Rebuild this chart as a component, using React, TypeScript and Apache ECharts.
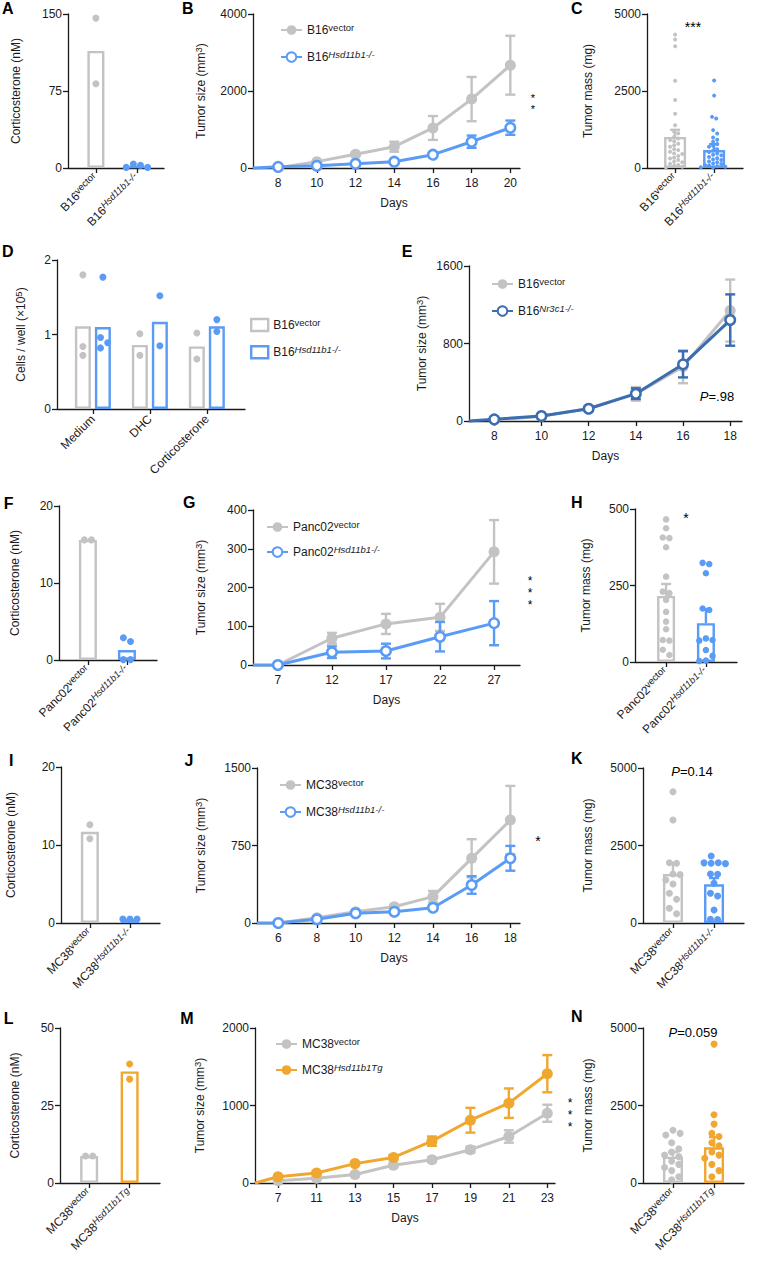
import React, { useEffect, useRef } from 'react';
import * as echarts from 'echarts';

const W = 758;
const H = 1262;
const FONT = '"Liberation Sans", Arial, Helvetica, sans-serif';
const INK = '#1a1a1a';
const GRAY = '#c3c3c3';
const BLUE = '#5a9bf6';
const DBLUE = '#3b6db1';
const ORANGE = '#f0a72f';

// ---------------- DATA ----------------
// A: corticosterone, B16
const aVectorDots = [146, 82];
const aKoDots = [0.6, 3.9, 0.6, 2.6];
const aMeans = [114, 1.9];

// B: B16 tumor growth
const bDays = [8, 10, 12, 14, 16, 18, 20];
const bVector = [10, 165, 355, 553, 1040, 1790, 2670];
const bVectorSem = [5, 25, 40, 130, 310, 575, 765];
const bKo = [30, 60, 112, 164, 346, 683, 1047];
const bKoSem = [5, 10, 20, 30, 45, 160, 185];

// C: B16 tumor mass
const cVectorDots = [4330, 4170, 3950, 2830, 2210, 1760, 1390, 1180, 1130, 1010, 960, 905, 870, 790, 740, 690, 610, 580, 530, 470, 455, 390, 330, 310, 260, 200, 185, 140, 95, 70, 40, 20];
const cKoDots = [2840, 2350, 1660, 1610, 1230, 1120, 990, 920, 850, 780, 720, 690, 610, 570, 520, 470, 430, 410, 360, 320, 280, 260, 210, 190, 150, 130, 100, 80, 60, 40, 25, 15];
const cMeans = [1010, 585];
const cSems = [230, 190];

// D: cells per well
const dCats = ['Medium', 'DHC', 'Corticosterone'];
const dVectorMeans = [1.11, 0.86, 0.84];
const dKoMeans = [1.1, 1.17, 1.11];
const dVectorDots = [[1.8, 0.84, 0.72], [1.01, 0.72], [1.02, 0.67]];
const dKoDots = [[1.77, 0.96, 0.89, 0.82], [1.52, 0.85], [1.2, 1.04]];

// E: B16 Nr3c1 tumor growth
const eDays = [8, 10, 12, 14, 16, 18];
const eVector = [10, 50, 130, 280, 560, 1140];
const eVectorSem = [3, 10, 20, 70, 170, 320];
const eKo = [17, 52, 127, 282, 585, 1042];
const eKoSem = [3, 10, 20, 55, 135, 265];

// F: corticosterone, Panc02
const fVectorDots = [15.6, 15.6];
const fKoDots = [2.4, 2.9, 0.05, 0.05];
const fMeans = [15.6, 1.3];

// G: Panc02 tumor growth
const gDays = [7, 12, 17, 22, 27];
const gVector = [0, 69, 106, 123, 292];
const gVectorSem = [0, 14, 26, 35, 82];
const gKo = [0, 33, 36, 73, 108];
const gKoSem = [0, 15, 19, 38, 57];

// H: Panc02 tumor mass
const hVectorDots = [466, 437, 407, 405, 375, 279, 230, 225, 203, 164, 132, 107, 72, 70, 40, 23];
const hKoDots = [324, 320, 290, 175, 170, 77, 72, 70, 39, 20, 3, 5];
const hMeans = [216, 127];
const hSems = [39, 46];

// I: corticosterone, MC38
const iVectorDots = [12.6, 10.8];
const iKoDots = [0.5, 0.5, 0.5];
const iMeans = [11.7, 0.5];

// J: MC38 tumor growth
const jDays = [6, 8, 10, 12, 14, 16, 18];
const jVector = [0, 51, 109, 158, 255, 626, 997];
const jVectorSem = [0, 10, 15, 20, 55, 185, 330];
const jKo = [0, 36, 94, 109, 148, 368, 626];
const jKoSem = [0, 8, 12, 15, 20, 85, 120];

// K: MC38 tumor mass
const kVectorDots = [4235, 3322, 1946, 1925, 1580, 1560, 1387, 1258, 957, 764, 473, 300];
const kKoDots = [2161, 1946, 1940, 1925, 1915, 1580, 1570, 1280, 957, 871, 419, 120, 115];
const kMeans = [1580, 1250];
const kSems = [355, 200];

// L: corticosterone, MC38 transgenic
const lVectorDots = [8.7, 8.7];
const lTgDots = [38.4, 33.5];
const lMeans = [8.7, 36];

// M: MC38 transgenic tumor growth
const mDays = [7, 11, 13, 15, 17, 19, 21, 23];
const mVector = [30, 60, 110, 230, 300, 430, 600, 900];
const mVectorSem = [5, 10, 15, 20, 30, 40, 80, 110];
const mTg = [80, 130, 250, 330, 540, 810, 1030, 1410];
const mTgSem = [10, 15, 20, 30, 60, 160, 190, 240];

// N: MC38 transgenic tumor mass
const nVectorDots = [1700, 1600, 1550, 1300, 1100, 1000, 900, 850, 700, 600, 500, 400, 200, 100];
const nTgDots = [4480, 2200, 1900, 1600, 1500, 1300, 1200, 1000, 900, 800, 600, 400, 200];
const nMeans = [850, 1150];
const nSems = [150, 330];

// ---------------- STYLE HELPERS ----------------
const RICH: any = {
  n: { fontFamily: FONT, fontSize: 12, color: INK, lineHeight: 16 },
  s: { fontFamily: FONT, fontSize: 9.5, color: INK, lineHeight: 9, verticalAlign: 'top' },
  si: { fontFamily: FONT, fontSize: 9.5, color: INK, lineHeight: 9, verticalAlign: 'top', fontStyle: 'italic' },
  i: { fontFamily: FONT, fontSize: 13, color: INK, fontStyle: 'italic', lineHeight: 16 },
  p: { fontFamily: FONT, fontSize: 13, color: INK, lineHeight: 16 },
};
const lab = (base: string, sup: string, italic: boolean) => `{n|${base}}{${italic ? 'si' : 's'}|${sup}}`;

const axisLineStyle = { show: true, onZero: false, lineStyle: { color: INK, width: 1.3 } };
const tickStyle = { show: true, length: 5, lineStyle: { color: INK, width: 1.3 } };

type Opt = { grid: any[]; xAxis: any[]; yAxis: any[]; series: any[]; legend: any[]; graphic: any[] };

function yAxisCfg(gi: number, max: number, interval: number, name: string, nameGap: number) {
  return {
    type: 'value', gridIndex: gi, min: 0, max, interval,
    axisLine: axisLineStyle, axisTick: tickStyle,
    axisLabel: { fontFamily: FONT, fontSize: 12, color: INK, margin: 6, formatter: (v: number) => String(v) },
    splitLine: { show: false },
    name, nameLocation: 'middle', nameGap, nameRotate: 90,
    nameTextStyle: { fontFamily: FONT, fontSize: 12, color: INK, rich: RICH },
  };
}

// beeswarm-like placement, returns pixel offsets
function swarm(vals: number[], pxY: number, d: number): number[] {
  const order = vals.map((_, i) => i).sort((a, b) => vals[b] - vals[a]);
  const placed: { x: number; y: number; i: number }[] = [];
  const off = new Array(vals.length).fill(0);
  for (const i of order) {
    const y = vals[i] * pxY;
    let x = 0;
    for (let step = 0; step < 80; step++) {
      const k = Math.ceil(step / 2);
      const cand = step === 0 ? 0 : (step % 2 === 1 ? k : -k) * d;
      if (placed.every((p) => Math.hypot(p.x - cand, p.y - y) >= d * 0.97)) { x = cand; break; }
    }
    placed.push({ x, y, i });
    off[i] = x;
  }
  const n = placed.length;
  const seen = new Array(n).fill(false);
  for (let s = 0; s < n; s++) {
    if (seen[s]) continue;
    const comp = [s]; seen[s] = true;
    for (let q = 0; q < comp.length; q++) {
      for (let t = 0; t < n; t++) {
        if (!seen[t] && Math.abs(placed[t].y - placed[comp[q]].y) < d) { seen[t] = true; comp.push(t); }
      }
    }
    const mean = comp.reduce((a, c) => a + placed[c].x, 0) / comp.length;
    comp.forEach((c) => { off[placed[c].i] = placed[c].x - mean; });
  }
  return off;
}

function errorBarSeries(gi: number, pts: number[][], color: string, cap: number, upOnly: boolean, z: number) {
  return {
    type: 'custom', xAxisIndex: gi, yAxisIndex: gi, z, silent: true, clip: false,
    data: pts,
    renderItem: (_p: any, api: any) => {
      const x = api.value(0);
      const a = api.coord([x, api.value(1)]);
      const b = api.coord([x, api.value(2)]);
      const st = { stroke: color, lineWidth: 2.4 };
      const children: any[] = [
        { type: 'line', shape: { x1: a[0], y1: a[1], x2: b[0], y2: b[1] }, style: st },
        { type: 'line', shape: { x1: b[0] - cap, y1: b[1], x2: b[0] + cap, y2: b[1] }, style: st },
      ];
      if (!upOnly) children.push({ type: 'line', shape: { x1: a[0] - cap, y1: a[1], x2: a[0] + cap, y2: a[1] }, style: st });
      return { type: 'group', children };
    },
  };
}

type BarP = {
  l: number; t: number; w: number; h: number; xMin: number; xMax: number;
  yMax: number; yInt: number; yName: string; nameGap: number;
  labels: string[]; means: number[]; sems: (number | null)[]; dots: number[][]; colors: string[];
  barWidth: number; dotSize: number;
};

function addBarPanel(o: Opt, p: BarP) {
  const gi = o.grid.length;
  o.grid.push({ left: p.l, top: p.t, width: p.w, height: p.h });
  const idx = p.labels.map((_, i) => i);
  o.xAxis.push({
    type: 'value', gridIndex: gi, min: p.xMin, max: p.xMax,
    axisLine: axisLineStyle,
    axisTick: { ...tickStyle, customValues: idx },
    axisLabel: {
      customValues: idx, formatter: (v: number) => p.labels[Math.round(v)], rotate: 45, margin: 8,
      rich: RICH, fontFamily: FONT, fontSize: 12, color: INK,
    },
    splitLine: { show: false },
  });
  o.yAxis.push(yAxisCfg(gi, p.yMax, p.yInt, p.yName, p.nameGap));
  o.series.push({
    type: 'bar', xAxisIndex: gi, yAxisIndex: gi, barWidth: p.barWidth, silent: true, z: 2,
    data: p.means.map((m, i) => ({ value: [i, m], itemStyle: { borderColor: p.colors[i] } })),
    itemStyle: { color: 'rgba(0,0,0,0)', borderWidth: 2.4 },
  });
  const pxY = p.h / p.yMax;
  const pxX = p.w / (p.xMax - p.xMin);
  p.dots.forEach((vals, i) => {
    const off = swarm(vals, pxY, p.dotSize * 1.02);
    o.series.push({
      type: 'scatter', xAxisIndex: gi, yAxisIndex: gi, symbolSize: p.dotSize, silent: true, z: 3,
      data: vals.map((v, k) => [i + off[k] / pxX, v]),
      itemStyle: { color: p.colors[i], opacity: 1 },
    });
  });
  p.sems.forEach((s, i) => {
    if (s == null) return;
    o.series.push(errorBarSeries(gi, [[i, p.means[i], p.means[i] + s]], p.colors[i], 5, true, 4));
  });
}

type LineS = { name: string; label: string; x: number[]; mean: number[]; sem: number[]; color: string; open: boolean; lead: boolean };
type LineP = {
  l: number; t: number; w: number; h: number; xMin: number; xMax: number;
  ticks: number[]; tickLabel: (v: number) => string;
  yMax: number; yInt: number; yName: string; nameGap: number; xNamePad: number;
  series: LineS[]; legend: { left: number; top: number; gap: number; w: number };
};

function addLinePanel(o: Opt, p: LineP) {
  const gi = o.grid.length;
  o.grid.push({ left: p.l, top: p.t, width: p.w, height: p.h });
  o.xAxis.push({
    type: 'value', gridIndex: gi, min: p.xMin, max: p.xMax,
    axisLine: axisLineStyle,
    axisTick: { ...tickStyle, customValues: p.ticks },
    axisLabel: { customValues: p.ticks, formatter: p.tickLabel, margin: 9, fontFamily: FONT, fontSize: 12, color: INK },
    splitLine: { show: false },
    name: 'Days', nameLocation: 'middle', nameGap: 29,
    nameTextStyle: { fontFamily: FONT, fontSize: 12, color: INK, padding: [0, 0, 0, p.xNamePad] },
  });
  o.yAxis.push(yAxisCfg(gi, p.yMax, p.yInt, p.yName, p.nameGap));
  let z = 2;
  p.series.forEach((s) => {
    const pts = s.x.map((d, i) => [d, s.mean[i] - s.sem[i], s.mean[i] + s.sem[i]]).filter((_, i) => s.sem[i] > 0);
    o.series.push(errorBarSeries(gi, pts, s.color, 5, false, z));
    const data: any[] = s.x.map((d, i) => [d, s.mean[i]]);
    if (s.lead) data.unshift({ value: [p.xMin, 0], symbol: 'none' });
    o.series.push({
      type: 'line', name: s.name, xAxisIndex: gi, yAxisIndex: gi, z: z + 1, silent: true, clip: false,
      data, symbol: 'circle', symbolSize: s.open ? 9.5 : 11, showSymbol: true,
      lineStyle: { color: s.color, width: 3 },
      itemStyle: { color: s.open ? '#ffffff' : s.color, borderColor: s.color, borderWidth: s.open ? 2.5 : 0 },
    });
    z += 2;
  });
  const labels: Record<string, string> = {};
  p.series.forEach((s) => { labels[s.name] = s.label; });
  o.legend.push({
    show: true, orient: 'vertical', left: p.legend.left, top: p.legend.top, itemGap: p.legend.gap,
    itemWidth: p.legend.w, itemHeight: 12, selectedMode: false, padding: 0,
    data: p.series.map((s) => s.name),
    formatter: (n: string) => labels[n],
    textStyle: { fontFamily: FONT, fontSize: 12, color: INK, rich: RICH },
  });
}

function txt(text: string, x: number, y: number, size: number, bold: boolean, align: string, valign = 'top', rich?: any, lineHeight?: number) {
  return {
    type: 'text', x, y, silent: true,
    style: {
      text, fontFamily: FONT, fontSize: size, fontWeight: bold ? 'bold' : 'normal', fill: '#000',
      align, textAlign: align, verticalAlign: valign, textVerticalAlign: valign, rich, lineHeight,
    },
  };
}

function buildOption() {
  const o: Opt = { grid: [], xAxis: [], yAxis: [], series: [], legend: [], graphic: [] };
  const yTumor = '{n|Tumor size (mm}{s|3}{n|)}';
  const yCort = '{n|Corticosterone (nM)}';
  const yMass = '{n|Tumor mass (mg)}';
  const num = (v: number) => String(Math.round(v));

  // A
  addBarPanel(o, {
    l: 68, t: 14, w: 96, h: 154, xMin: -0.68, xMax: 1.66, yMax: 150, yInt: 75, yName: yCort, nameGap: 44,
    labels: [lab('B16', 'vector', false), lab('B16', 'Hsd11b1-/-', true)],
    means: aMeans, sems: [null, null], dots: [aVectorDots, aKoDots], colors: [GRAY, BLUE], barWidth: 17, dotSize: 7,
  });
  // B
  addLinePanel(o, {
    l: 253, t: 14, w: 267, h: 154, xMin: 6.7, xMax: 20.5, ticks: bDays, tickLabel: num,
    yMax: 4000, yInt: 2000, yName: yTumor, nameGap: 44, xNamePad: 15,
    series: [
      { name: 'B-vec', label: lab('B16', 'vector', false), x: bDays, mean: bVector, sem: bVectorSem, color: GRAY, open: false, lead: false },
      { name: 'B-ko', label: lab('B16', 'Hsd11b1-/-', true), x: bDays, mean: bKo, sem: bKoSem, color: BLUE, open: true, lead: true },
    ],
    legend: { left: 280, top: 22, gap: 13, w: 21 },
  });
  // C
  addBarPanel(o, {
    l: 647, t: 14, w: 96, h: 154, xMin: -0.72, xMax: 1.74, yMax: 5000, yInt: 2500, yName: yMass, nameGap: 51,
    labels: [lab('B16', 'vector', false), lab('B16', 'Hsd11b1-/-', true)],
    means: cMeans, sems: cSems, dots: [cVectorDots, cKoDots], colors: [GRAY, BLUE], barWidth: 22, dotSize: 4,
  });

  // D (grouped)
  {
    const gi = o.grid.length;
    const l = 57, t = 260, w = 188, h = 149, xMin = -0.63, xMax = 2.67, yMax = 2;
    o.grid.push({ left: l, top: t, width: w, height: h });
    const idx = dCats.map((_, i) => i);
    o.xAxis.push({
      type: 'value', gridIndex: gi, min: xMin, max: xMax, axisLine: axisLineStyle,
      axisTick: { ...tickStyle, customValues: idx },
      axisLabel: { customValues: idx, formatter: (v: number) => dCats[Math.round(v)], rotate: 45, margin: 8, fontFamily: FONT, fontSize: 12, color: INK },
      splitLine: { show: false },
    });
    o.yAxis.push(yAxisCfg(gi, yMax, 1, '{n|Cells / well (×10}{s|5}{n|)}', 28));
    const bw = 16;
    o.series.push({
      type: 'bar', name: 'D-vec', xAxisIndex: gi, yAxisIndex: gi, barWidth: bw, barGap: '25%', silent: true, z: 2,
      data: dVectorMeans.map((m, i) => [i, m]),
      itemStyle: { color: 'rgba(0,0,0,0)', borderColor: GRAY, borderWidth: 2.4 },
    });
    o.series.push({
      type: 'bar', name: 'D-ko', xAxisIndex: gi, yAxisIndex: gi, barWidth: bw, barGap: '25%', silent: true, z: 2,
      data: dKoMeans.map((m, i) => [i, m]),
      itemStyle: { color: 'rgba(0,0,0,0)', borderColor: BLUE, borderWidth: 2.4 },
    });
    const pxX = w / (xMax - xMin);
    const pxY = h / yMax;
    const shift = (bw + bw * 0.25) / 2;
    [[dVectorDots, GRAY, -shift], [dKoDots, BLUE, shift]].forEach(([groups, color, sh]: any) => {
      const data: number[][] = [];
      (groups as number[][]).forEach((vals, i) => {
        const off = swarm(vals, pxY, 7.2);
        vals.forEach((v, k) => data.push([i + (sh + off[k]) / pxX, v]));
      });
      o.series.push({ type: 'scatter', xAxisIndex: gi, yAxisIndex: gi, symbolSize: 7, silent: true, z: 3, data, itemStyle: { color, opacity: 1 } });
    });
    o.legend.push({
      show: true, orient: 'vertical', left: 250, top: 317, itemGap: 12, itemWidth: 17, itemHeight: 12,
      selectedMode: false, padding: 0, icon: 'rect', data: ['D-vec', 'D-ko'],
      itemStyle: { color: 'rgba(0,0,0,0)', borderWidth: 2.4 },
      formatter: (n: string) => (n === 'D-vec' ? lab('B16', 'vector', false) : lab('B16', 'Hsd11b1-/-', true)),
      textStyle: { fontFamily: FONT, fontSize: 12, color: INK, rich: RICH },
    });
  }

  // E
  addLinePanel(o, {
    l: 469, t: 266, w: 273, h: 155, xMin: 6.93, xMax: 18.5, ticks: eDays, tickLabel: num,
    yMax: 1600, yInt: 800, yName: yTumor, nameGap: 39, xNamePad: 0,
    series: [
      { name: 'E-vec', label: lab('B16', 'vector', false), x: eDays, mean: eVector, sem: eVectorSem, color: GRAY, open: false, lead: false },
      { name: 'E-ko', label: lab('B16', 'Nr3c1-/-', true), x: eDays, mean: eKo, sem: eKoSem, color: DBLUE, open: true, lead: true },
    ],
    legend: { left: 491, top: 276, gap: 13, w: 21 },
  });

  // F
  addBarPanel(o, {
    l: 59, t: 506, w: 98, h: 154, xMin: -0.74, xMax: 1.77, yMax: 20, yInt: 10, yName: yCort, nameGap: 36,
    labels: [lab('Panc02', 'vector', false), lab('Panc02', 'Hsd11b1-/-', true)],
    means: fMeans, sems: [null, null], dots: [fVectorDots, fKoDots], colors: [GRAY, BLUE], barWidth: 18, dotSize: 7,
  });
  // G
  addLinePanel(o, {
    l: 253, t: 510, w: 267, h: 155, xMin: 4.7, xMax: 29.4, ticks: gDays, tickLabel: num,
    yMax: 400, yInt: 100, yName: yTumor, nameGap: 44, xNamePad: 0,
    series: [
      { name: 'G-vec', label: lab('Panc02', 'vector', false), x: gDays, mean: gVector, sem: gVectorSem, color: GRAY, open: false, lead: false },
      { name: 'G-ko', label: lab('Panc02', 'Hsd11b1-/-', true), x: gDays, mean: gKo, sem: gKoSem, color: BLUE, open: true, lead: true },
    ],
    legend: { left: 266, top: 519, gap: 11, w: 21 },
  });
  // H
  addBarPanel(o, {
    l: 635, t: 509, w: 102, h: 153, xMin: -0.78, xMax: 1.78, yMax: 500, yInt: 250, yName: yMass, nameGap: 41,
    labels: [lab('Panc02', 'vector', false), lab('Panc02', 'Hsd11b1-/-', true)],
    means: hMeans, sems: hSems, dots: [hVectorDots, hKoDots], colors: [GRAY, BLUE], barWidth: 18, dotSize: 6.5,
  });

  // I
  addBarPanel(o, {
    l: 61, t: 767, w: 99, h: 156, xMin: -0.72, xMax: 1.75, yMax: 20, yInt: 10, yName: yCort, nameGap: 42,
    labels: [lab('MC38', 'vector', false), lab('MC38', 'Hsd11b1-/-', true)],
    means: iMeans, sems: [null, null], dots: [iVectorDots, iKoDots], colors: [GRAY, BLUE], barWidth: 18, dotSize: 7,
  });
  // J
  addLinePanel(o, {
    l: 257, t: 768, w: 263, h: 155, xMin: 4.9, xMax: 18.5, ticks: jDays, tickLabel: num,
    yMax: 1500, yInt: 750, yName: yTumor, nameGap: 48, xNamePad: 11,
    series: [
      { name: 'J-vec', label: lab('MC38', 'vector', false), x: jDays, mean: jVector, sem: jVectorSem, color: GRAY, open: false, lead: false },
      { name: 'J-ko', label: lab('MC38', 'Hsd11b1-/-', true), x: jDays, mean: jKo, sem: jKoSem, color: BLUE, open: true, lead: true },
    ],
    legend: { left: 279, top: 777, gap: 13, w: 21 },
  });
  // K
  addBarPanel(o, {
    l: 643, t: 768, w: 101, h: 155, xMin: -0.73, xMax: 1.73, yMax: 5000, yInt: 2500, yName: yMass, nameGap: 47,
    labels: [lab('MC38', 'vector', false), lab('MC38', 'Hsd11b1-/-', true)],
    means: kMeans, sems: kSems, dots: [kVectorDots, kKoDots], colors: [GRAY, BLUE], barWidth: 20, dotSize: 7,
  });

  // L
  addBarPanel(o, {
    l: 60, t: 1028, w: 100, h: 155, xMin: -0.72, xMax: 1.75, yMax: 50, yInt: 25, yName: yCort, nameGap: 37,
    labels: [lab('MC38', 'vector', false), lab('MC38', 'Hsd11b1Tg', true)],
    means: lMeans, sems: [null, null], dots: [lVectorDots, lTgDots], colors: [GRAY, ORANGE], barWidth: 18, dotSize: 7,
  });
  // M
  const mIdx = mDays.map((_, i) => i);
  addLinePanel(o, {
    l: 255, t: 1028, w: 300, h: 155, xMin: -0.6, xMax: 7.2, ticks: mIdx, tickLabel: (v: number) => String(mDays[Math.round(v)]),
    yMax: 2000, yInt: 1000, yName: yTumor, nameGap: 47, xNamePad: 0,
    series: [
      { name: 'M-vec', label: lab('MC38', 'vector', false), x: mIdx, mean: mVector, sem: mVectorSem, color: GRAY, open: false, lead: false },
      { name: 'M-tg', label: lab('MC38', 'Hsd11b1Tg', true), x: mIdx, mean: mTg, sem: mTgSem, color: ORANGE, open: false, lead: true },
    ],
    legend: { left: 275, top: 1036, gap: 12, w: 21 },
  });
  // N
  addBarPanel(o, {
    l: 643, t: 1028, w: 101, h: 155, xMin: -0.73, xMax: 1.73, yMax: 5000, yInt: 2500, yName: yMass, nameGap: 47,
    labels: [lab('MC38', 'vector', false), lab('MC38', 'Hsd11b1Tg', true)],
    means: nMeans, sems: nSems, dots: [nVectorDots, nTgDots], colors: [GRAY, ORANGE], barWidth: 20, dotSize: 7,
  });

  // panel letters
  const letters: [string, number, number][] = [
    ['A', 13.5, 0], ['B', 193.5, 0], ['C', 582.5, 0],
    ['D', 13.5, 243], ['E', 412.5, 243],
    ['F', 13.5, 495], ['G', 195.5, 494], ['H', 582.5, 494],
    ['I', 13.5, 752], ['J', 193.5, 752], ['K', 582.5, 750],
    ['L', 13.5, 1010], ['M', 193.5, 1010], ['N', 582.5, 1008],
  ];
  letters.forEach(([t, x, y]) => o.graphic.push(txt(t, x, y, 16, true, 'right')));

  // significance marks (stacked asterisks as single multi-line texts)
  o.graphic.push(txt('*\n*', 533, 103, 11, false, 'center', 'middle', undefined, 11));
  o.graphic.push(txt('***', 693, 27, 14, false, 'center', 'middle'));
  o.graphic.push(txt('*\n*\n*', 530, 593, 12, false, 'center', 'middle', undefined, 12));
  o.graphic.push(txt('*', 686, 518, 14, false, 'center', 'middle'));
  o.graphic.push(txt('*', 538, 841, 14, false, 'center', 'middle'));
  o.graphic.push(txt('*\n*\n*', 570, 1115, 12, false, 'center', 'middle', undefined, 12));
  o.graphic.push(txt('{i|P}{p|=.98}', 717, 396, 13, false, 'center', 'middle', RICH));
  o.graphic.push(txt('{i|P}{p|=0.14}', 692, 771, 13, false, 'center', 'middle', RICH));
  o.graphic.push(txt('{i|P}{p|=0.059}', 693, 1032, 13, false, 'center', 'middle', RICH));

  return {
    animation: false,
    backgroundColor: '#ffffff',
    textStyle: { fontFamily: FONT },
    grid: o.grid, xAxis: o.xAxis, yAxis: o.yAxis, series: o.series, legend: o.legend, graphic: o.graphic,
  };
}

export default function App() {
  const ref = useRef<HTMLDivElement>(null);
  useEffect(() => {
    if (!ref.current) return;
    const chart = echarts.init(ref.current, undefined, { renderer: 'svg' });
    chart.setOption(buildOption() as any);
    return () => chart.dispose();
  }, []);
  return <div ref={ref} style={{ position: 'absolute', left: 0, top: 0, width: W, height: H, background: '#fff' }} />;
}
